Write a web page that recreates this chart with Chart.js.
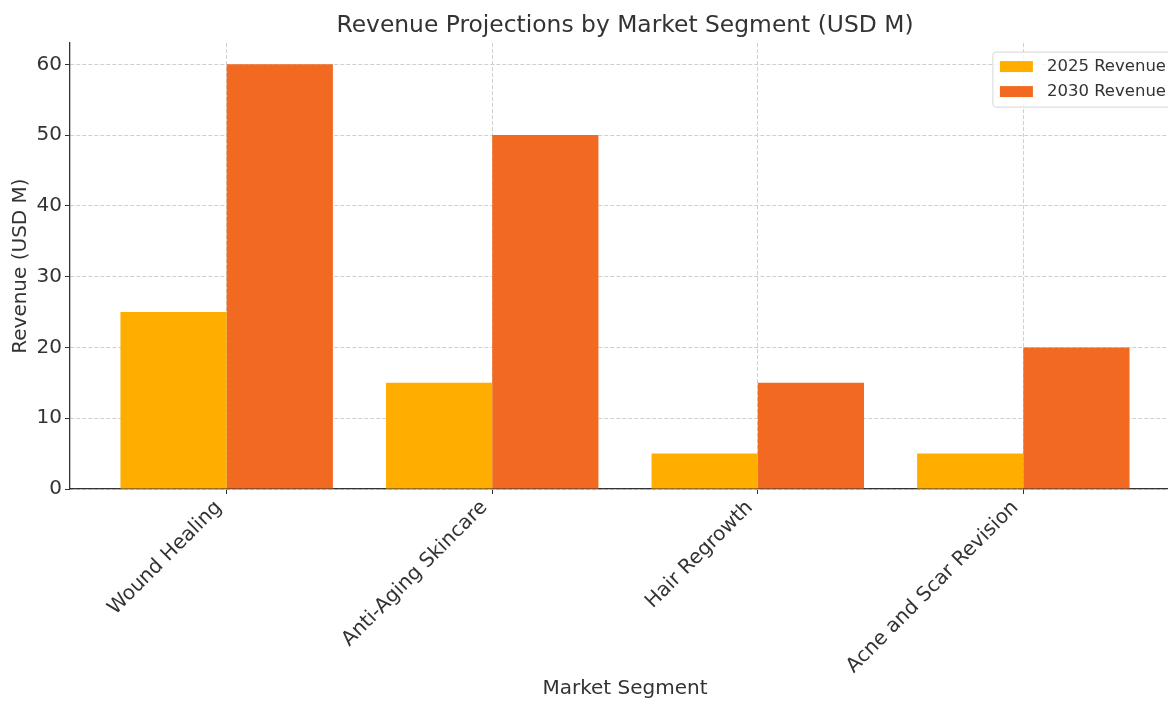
<!DOCTYPE html>
<html>
<head>
<meta charset="utf-8">
<script src="https://cdn.jsdelivr.net/npm/chart.js@4/dist/chart.umd.min.js"></script>
<style>
  html, body { margin: 0; padding: 0; background: #fff; overflow: hidden; }
  #wrap { position: relative; width: 1250px; height: 701px; }
</style>
</head>
<body>
<div id="wrap"><canvas id="revChart" width="1250" height="701"></canvas></div>
<script>
// Chart data
const segments = ['Wound Healing', 'Anti-Aging Skincare', 'Hair Regrowth', 'Acne and Scar Revision'];
const revenue2025 = [25, 15, 5, 5];
const revenue2030 = [60, 50, 15, 20];
const yTicks = [0, 10, 20, 30, 40, 50, 60];

const FONT = "'DejaVu Sans', sans-serif";
const TEXT = '#333333';
const GRID = '#cfcfcf';
const COL_2025 = '#ffae00';
const COL_2030 = '#f26a22';

// legend drawn inside the plot, top right
const innerLegend = {
  id: 'innerLegend',
  afterDraw(chart) {
    const { ctx, chartArea } = chart;
    const items = [
      { label: '2025 Revenue', color: COL_2025 },
      { label: '2030 Revenue', color: COL_2030 }
    ];
    ctx.save();
    ctx.font = '16.5px ' + FONT;
    const textW = Math.max(...items.map(i => ctx.measureText(i.label).width));
    const w = 7 + 33 + 14 + textW + 9;
    const h = 55;
    const x = chartArea.right - 5 - w;
    const y = chartArea.top + 9;
    ctx.beginPath();
    ctx.roundRect(x, y, w, h, 3);
    ctx.fillStyle = 'rgba(255,255,255,0.8)';
    ctx.fill();
    ctx.strokeStyle = '#d6d6d6';
    ctx.lineWidth = 1;
    ctx.stroke();
    items.forEach((it, i) => {
      const cy = y + 14 + i * 25;
      ctx.fillStyle = it.color;
      ctx.fillRect(x + 7, cy - 5, 33, 11);
      ctx.fillStyle = TEXT;
      ctx.textBaseline = 'middle';
      ctx.textAlign = 'left';
      ctx.fillText(it.label, x + 7 + 33 + 14, cy + 1);
    });
    ctx.restore();
  }
};

const gridOpts = {
  color: GRID,
  tickColor: TEXT,
  tickBorderDash: [],
  tickLength: 5,
  offset: false
};

const ctx = document.getElementById('revChart').getContext('2d');
new Chart(ctx, {
  type: 'bar',
  data: {
    datasets: [
      {
        label: '2025 Revenue',
        data: revenue2025.map((v, i) => ({ x: i, y: v })),
        backgroundColor: COL_2025,
        borderWidth: 0
      },
      {
        label: '2030 Revenue',
        data: revenue2030.map((v, i) => ({ x: i, y: v })),
        backgroundColor: COL_2030,
        borderWidth: 0
      }
    ]
  },
  plugins: [innerLegend],
  options: {
    responsive: false,
    animation: false,
    categoryPercentage: 0.8,
    barPercentage: 1.0,
    layout: { padding: 0 },
    plugins: {
      legend: { display: false },
      tooltip: { enabled: false },
      title: {
        display: true,
        text: 'Revenue Projections by Market Segment (USD M)',
        color: TEXT,
        font: { family: FONT, size: 23.4, weight: 'normal' },
        padding: { top: 12, bottom: 3 }
      }
    },
    scales: {
      x: {
        type: 'linear',
        min: -0.59,
        max: 3.59,
        offset: false,
        afterFit(scale) { scale.height = 212; },
        afterBuildTicks(scale) { scale.ticks = segments.map((_, i) => ({ value: i })); },
        grid: gridOpts,
        border: { display: true, color: TEXT, width: 1.3, dash: [4, 2] },
        ticks: {
          minRotation: 45,
          maxRotation: 45,
          autoSkip: false,
          padding: 2,
          labelOffset: -8,
          color: TEXT,
          font: { family: FONT, size: 20 },
          callback: v => segments[v]
        },
        title: {
          display: true,
          text: 'Market Segment',
          color: TEXT,
          font: { family: FONT, size: 20 },
          padding: { top: 0, bottom: 0 }
        }
      },
      y: {
        min: 0,
        max: 63,
        afterFit(scale) { scale.width = 70; },
        afterBuildTicks(scale) { scale.ticks = yTicks.map(v => ({ value: v })); },
        grid: gridOpts,
        border: { display: true, color: TEXT, width: 1.3, dash: [4, 2] },
        ticks: {
          padding: 3,
          color: TEXT,
          font: { family: FONT, size: 20 }
        },
        title: {
          display: true,
          text: 'Revenue (USD M)',
          color: TEXT,
          font: { family: FONT, size: 20 },
          padding: { top: 9, bottom: 0 }
        }
      },
      // empty right-hand axis only reserves the figure margin
      spacer: {
        position: 'right',
        display: true,
        afterFit(scale) { scale.width = 70; },
        grid: { display: false },
        border: { display: false },
        ticks: { display: false }
      }
    }
  }
});
</script>
</body>
</html>
